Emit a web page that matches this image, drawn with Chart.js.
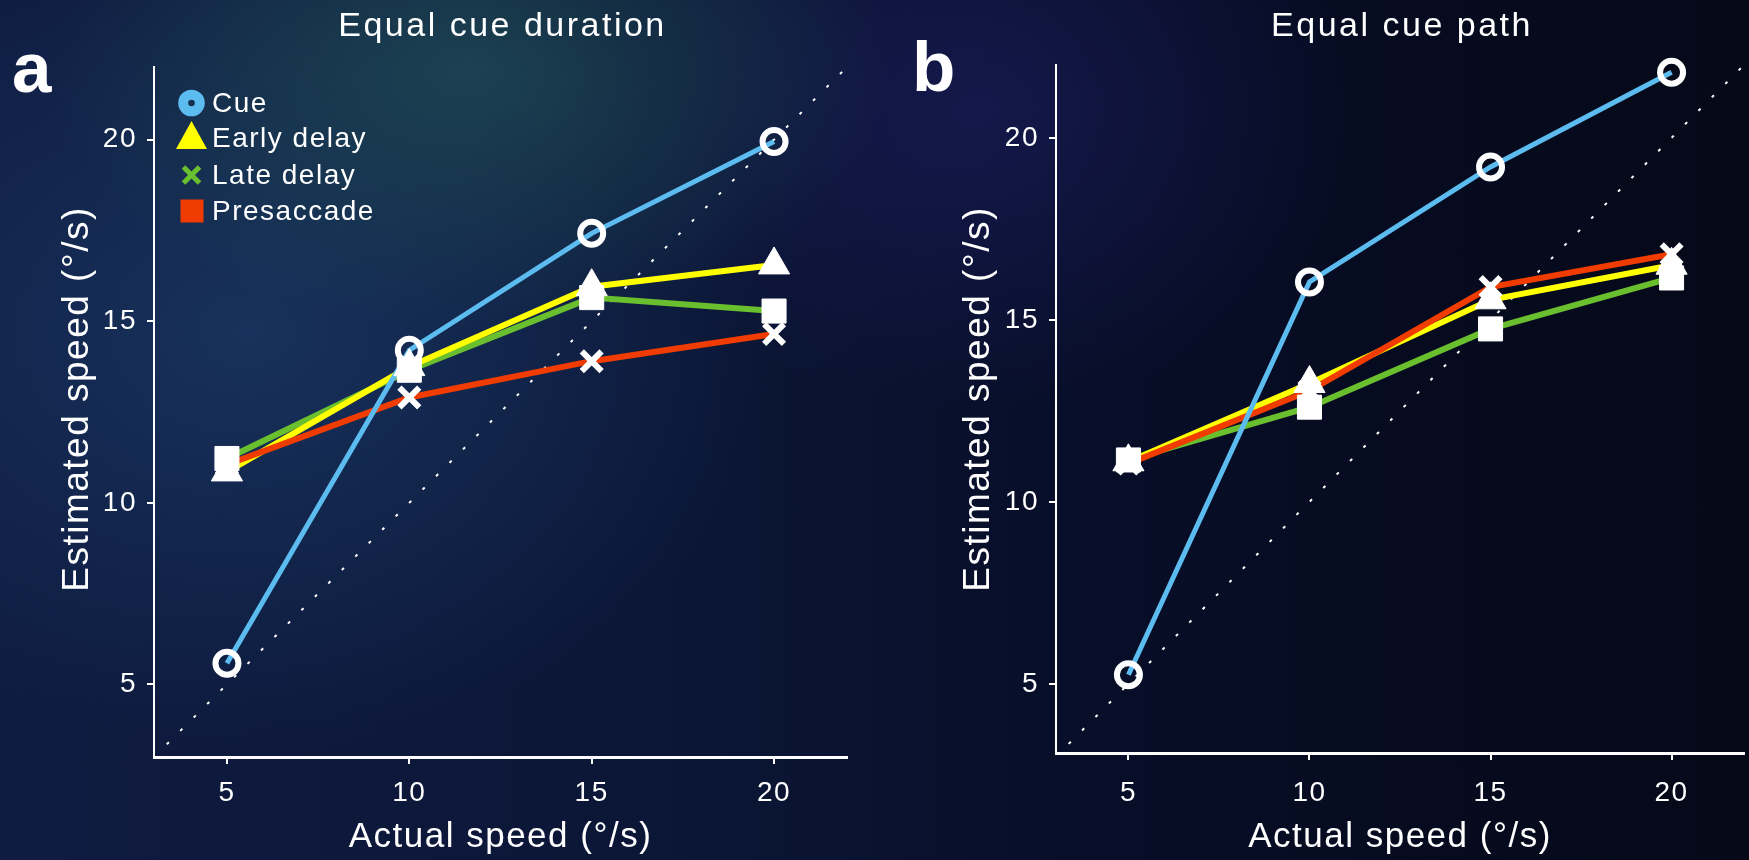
<!DOCTYPE html>
<html>
<head>
<meta charset="utf-8">
<title>Estimated vs actual speed</title>
<script src="https://cdn.jsdelivr.net/npm/chart.js@4.4.1/dist/chart.umd.min.js"></script>
<style>
  html, body { margin: 0; padding: 0; }
  body {
    width: 1749px;
    height: 860px;
    overflow: hidden;
    position: relative;
    background:
      radial-gradient(ellipse 420px 260px at 470px 70px, rgba(32, 78, 86, 0.75), rgba(32, 78, 86, 0) 100%),
      radial-gradient(ellipse 520px 420px at 250px 330px, rgba(26, 56, 100, 0.8), rgba(26, 56, 100, 0) 100%),
      radial-gradient(ellipse 380px 300px at 980px 110px, rgba(28, 30, 96, 0.6), rgba(28, 30, 96, 0) 100%),
      linear-gradient(to right, #0f1b40 0%, #0b1636 40%, #080f2a 58%, #060b20 80%, #050918 100%);
  }
  canvas { position: absolute; top: 0; }
  #panel-a { left: 0; }
  #panel-b { left: 870px; }
</style>
</head>
<body>
<canvas id="panel-a" width="870" height="860"></canvas>
<canvas id="panel-b" width="879" height="860"></canvas>
<script>
// actual speeds (deg/s) and the estimated speeds for each epoch
const speeds = [5, 10, 15, 20];
const speedTicks = [5, 10, 15, 20];
const diagonal = [3.35, 22];

const durationCue = [5.58, 14.2, 17.42, 19.95];
const durationEarly = [10.85, 13.75, 15.95, 16.55];
const durationLate = [11.22, 13.65, 15.65, 15.28];
const durationPre = [11.05, 12.9, 13.9, 14.65];

const pathCue = [5.25, 16.04, 19.2, 21.8];
const pathEarly = [11.1, 13.25, 15.55, 16.5];
const pathLate = [11.15, 12.6, 14.75, 16.15];
const pathPre = [11.05, 13.05, 15.9, 16.8];

const FONT = "'Liberation Sans', Arial, Helvetica, sans-serif";
Chart.defaults.font.family = FONT;
Chart.defaults.color = "#ffffff";

const colors = {
  cue: "#5cbcf0",
  early: "#ffff00",
  late: "#6abf2e",
  pre: "#f03c00",
};

function points(ys) {
  return speeds.map((x, i) => ({ x: x, y: ys[i] }));
}

function lineSet(ys, color, width, order) {
  return {
    data: points(ys),
    showLine: true,
    borderColor: color,
    borderWidth: width,
    pointRadius: 0,
    tension: 0,
    order: order,
  };
}

function markerSet(ys, style, order) {
  return Object.assign({
    data: points(ys),
    showLine: false,
    pointBorderColor: "#ffffff",
    pointBackgroundColor: "#ffffff",
    clip: false,
    order: order,
  }, style);
}

const circleMarker = { pointStyle: "circle", pointRadius: 11.5, pointBorderWidth: 6, pointBackgroundColor: "rgba(0,0,0,0)" };
const triangleMarker = { pointStyle: "triangle", pointRadius: 18, pointBorderWidth: 1 };
const squareMarker = { pointStyle: "rect", pointRadius: 17, pointBorderWidth: 1 };
const crossMarker = { pointStyle: "crossRot", pointRadius: 14, pointBorderWidth: 6 };

function buildDatasets(cue, early, late, pre) {
  return [
    {
      data: diagonal.map((v) => ({ x: v, y: v })),
      showLine: true,
      borderColor: "#ffffff",
      borderWidth: 2,
      borderDash: [3, 16],
      pointRadius: 0,
      order: 20,
    },
    lineSet(late, colors.late, 6, 13),
    lineSet(early, colors.early, 6, 12),
    lineSet(pre, colors.pre, 6, 11),
    lineSet(cue, colors.cue, 5, 10),
    markerSet(early, triangleMarker, 4),
    markerSet(late, squareMarker, 3),
    markerSet(pre, crossMarker, 2),
    markerSet(cue, circleMarker, 1),
  ];
}

function drawLegend(ctx) {
  const rows = [103, 138, 175, 211];
  const mx = 191.5;
  // Cue: thick blue ring
  ctx.beginPath();
  ctx.arc(mx, rows[0], 8.3, 0, Math.PI * 2);
  ctx.lineWidth = 10;
  ctx.strokeStyle = colors.cue;
  ctx.stroke();
  // Early delay: yellow triangle
  ctx.beginPath();
  ctx.moveTo(mx, rows[1] - 17);
  ctx.lineTo(mx + 15.5, rows[1] + 11);
  ctx.lineTo(mx - 15.5, rows[1] + 11);
  ctx.closePath();
  ctx.fillStyle = colors.early;
  ctx.fill();
  // Late delay: green cross
  ctx.beginPath();
  ctx.moveTo(mx - 8, rows[2] - 8);
  ctx.lineTo(mx + 8, rows[2] + 8);
  ctx.moveTo(mx + 8, rows[2] - 8);
  ctx.lineTo(mx - 8, rows[2] + 8);
  ctx.lineWidth = 5;
  ctx.strokeStyle = colors.late;
  ctx.stroke();
  // Presaccade: red square
  ctx.fillStyle = colors.pre;
  ctx.fillRect(mx - 11, rows[3] - 11.5, 23, 23);

  const labels = ["Cue", "Early delay", "Late delay", "Presaccade"];
  ctx.fillStyle = "#ffffff";
  ctx.font = "28px " + FONT;
  ctx.textAlign = "left";
  ctx.textBaseline = "middle";
  labels.forEach((t, i) => ctx.fillText(t, 212, rows[i] + 1));
}

const panelText = {
  id: "panelText",
  beforeUpdate(chart) {
    chart.ctx.letterSpacing = "1.5px";
  },
  beforeDraw(chart) {
    chart.ctx.letterSpacing = "1.5px";
  },
  afterDraw(chart, args, opts) {
    const ctx = chart.ctx;
    const area = chart.chartArea;
    ctx.save();
    ctx.fillStyle = "#ffffff";

    // panel title
    ctx.letterSpacing = "2.5px";
    ctx.font = "34px " + FONT;
    ctx.textAlign = "center";
    ctx.textBaseline = "alphabetic";
    ctx.fillText(opts.title, (area.left + area.right) / 2 + 2, 36);

    // y axis title, rotated
    ctx.save();
    ctx.letterSpacing = "1.5px";
    ctx.font = "37px " + FONT;
    ctx.textBaseline = "middle";
    ctx.translate(opts.yTitleX, 399);
    ctx.rotate(-Math.PI / 2);
    ctx.fillText("Estimated speed (°/s)", 0, 0);
    ctx.restore();

    // panel letter
    ctx.letterSpacing = "0px";
    ctx.font = "bold 71px " + FONT;
    ctx.textAlign = "left";
    ctx.fillText(opts.letter, opts.letterX, opts.letterY);

    ctx.letterSpacing = "1.5px";
    if (opts.legend) drawLegend(ctx);
    ctx.restore();
  },
};

function makeChart(id, datasets, cfg) {
  return new Chart(document.getElementById(id), {
    type: "scatter",
    data: { datasets: datasets },
    options: {
      responsive: false,
      animation: false,
      layout: {
        autoPadding: false,
        padding: { top: cfg.top, right: cfg.right, left: 0, bottom: 0 },
      },
      scales: {
        x: {
          type: "linear",
          min: 3,
          max: 22,
          afterBuildTicks: (scale) => {
            scale.ticks = speedTicks.map((v) => ({ value: v }));
          },
          afterFit: (scale) => {
            scale.height = cfg.xHeight;
            scale.paddingLeft = 0;
            scale.paddingRight = 0;
          },
          border: { display: true, color: "#ffffff", width: 3 },
          grid: { drawOnChartArea: false, drawTicks: true, tickLength: 7, color: "#ffffff", lineWidth: 2 },
          ticks: { color: "#ffffff", font: { size: 28 }, padding: cfg.xTickPad, maxRotation: 0 },
          title: {
            display: true,
            text: "Actual speed (°/s)",
            color: "#ffffff",
            font: { size: 35 },
            padding: { top: 0, bottom: 2 },
          },
        },
        y: {
          type: "linear",
          min: cfg.yMin,
          max: cfg.yMax,
          afterBuildTicks: (scale) => {
            scale.ticks = speedTicks.map((v) => ({ value: v }));
          },
          afterFit: (scale) => {
            scale.width = cfg.yWidth;
            scale.paddingTop = 0;
            scale.paddingBottom = 0;
          },
          border: { display: true, color: "#ffffff", width: 2 },
          grid: { drawOnChartArea: false, drawTicks: true, tickLength: 7, color: "#ffffff", lineWidth: 2 },
          ticks: { color: "#ffffff", font: { size: 28 }, padding: 10 },
        },
      },
      plugins: {
        legend: { display: false },
        tooltip: { enabled: false },
        panelText: cfg.text,
      },
    },
    plugins: [panelText],
  });
}

makeChart("panel-a", buildDatasets(durationCue, durationEarly, durationLate, durationPre), {
  top: 67, right: 23, xHeight: 103, yWidth: 154, yMin: 3, yMax: 22,
  xTickPad: 12,
  text: { title: "Equal cue duration", letter: "a", letterX: 12, letterY: 92, yTitleX: 78, legend: true },
});

makeChart("panel-b", buildDatasets(pathCue, pathEarly, pathLate, pathPre), {
  top: 65, right: 5, xHeight: 107, yWidth: 186, yMin: 3.1, yMax: 22,
  xTickPad: 16,
  text: { title: "Equal cue path", letter: "b", letterX: 42, letterY: 91, yTitleX: 109, legend: false },
});
</script>
</body>
</html>
